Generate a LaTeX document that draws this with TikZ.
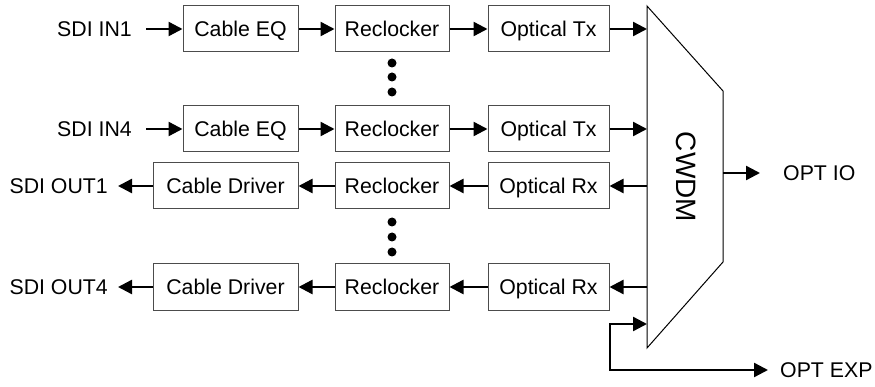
\documentclass[tikz,border=0pt]{standalone}
\usepackage{fontspec}
\setmainfont{Liberation Sans}
\usetikzlibrary{arrows.meta}
\begin{document}
\begin{tikzpicture}[x=1pt,y=-1pt,
  font=\fontsize{21.3}{25}\selectfont,
  blk/.style={draw=black!70, line width=1pt, rectangle, inner sep=0pt,
    minimum height=46pt, text height=15.2pt, text depth=0pt},
  eqbox/.style={blk, minimum width=115pt},
  rcbox/.style={blk, minimum width=114pt},
  opbox/.style={blk, minimum width=121pt},
  drbox/.style={blk, minimum width=145pt},
  lbl/.style={inner sep=0pt, text height=15.2pt, text depth=0pt},
  sig/.style={line width=2.4pt, -{Triangle[length=14pt,width=14pt]}},
  sig2/.style={line width=2.4pt, {Triangle[length=14pt,width=14pt]}-{Triangle[length=14pt,width=14pt]}},
  dot/.style={fill=black, circle, inner sep=0pt, minimum size=9pt}
]
\useasboundingbox (0,0) rectangle (875,387);

% transmit chains
\node[eqbox] (eq1) at (240.5,29) {Cable EQ};
\node[rcbox] (rc1) at (392,29) {Reclocker};
\node[opbox] (tx1) at (548.5,29) {Optical Tx};
\node[eqbox] (eq4) at (240.5,129) {Cable EQ};
\node[rcbox] (rc4) at (392,129) {Reclocker};
\node[opbox] (tx4) at (548.5,129) {Optical Tx};

% receive chains
\node[drbox] (dr1) at (225.5,186) {Cable Driver};
\node[rcbox] (rr1) at (392,186) {Reclocker};
\node[opbox] (rx1) at (548.5,186) {Optical Rx};
\node[drbox] (dr4) at (225.5,287) {Cable Driver};
\node[rcbox] (rr4) at (392,287) {Reclocker};
\node[opbox] (rx4) at (548.5,287) {Optical Rx};

% ellipsis dots
\node[dot] (d1) at (392,63) {};
\node[dot] (d2) at (392,77) {};
\node[dot] (d3) at (392,92) {};
\node[dot] (d4) at (392,222) {};
\node[dot] (d5) at (392,237) {};
\node[dot] (d6) at (392,252) {};

% port labels
\node[lbl, anchor=east] (in1) at (132,29) {SDI IN1};
\node[lbl, anchor=east] (in4) at (132,129) {SDI IN4};
\node[lbl, anchor=east] (out1) at (108,186) {SDI OUT1};
\node[lbl, anchor=east] (out4) at (108,287) {SDI OUT4};
\node[lbl, anchor=west] (optio) at (783,173) {OPT IO};
\node[lbl, anchor=west] (optexp) at (780,370) {OPT EXP};

% CWDM multiplexer
\draw[line width=1pt] (647,6) -- (723,91) -- (723,262) -- (647,348) -- cycle;
\node[rotate=-90, font=\fontsize{28}{32}\selectfont, text height=20pt, text depth=0pt] (cwdm) at (686,177) {CWDM};
\coordinate (cwL) at (647,0);
\coordinate (cwR) at (723,173);
\coordinate (cwX) at (647,324);
\coordinate (bend) at (610,324);

% transmit connectors
\draw[sig, shorten <=14pt] (in1.east) -- (eq1.west);
\draw[sig] (eq1.east) -- (rc1.west);
\draw[sig] (rc1.east) -- (tx1.west);
\draw[sig] (tx1.east) -- (tx1.east -| cwL);
\draw[sig, shorten <=14pt] (in4.east) -- (eq4.west);
\draw[sig] (eq4.east) -- (rc4.west);
\draw[sig] (rc4.east) -- (tx4.west);
\draw[sig] (tx4.east) -- (tx4.east -| cwL);

% receive connectors
\draw[sig] (rx1.east -| cwL) -- (rx1.east);
\draw[sig] (rx1.west) -- (rr1.east);
\draw[sig] (rr1.west) -- (dr1.east);
\draw[sig, shorten >=10pt] (dr1.west) -- (out1.east);
\draw[sig] (rx4.east -| cwL) -- (rx4.east);
\draw[sig] (rx4.west) -- (rr4.east);
\draw[sig] (rr4.west) -- (dr4.east);
\draw[sig, shorten >=10pt] (dr4.west) -- (out4.east);

% optical ports
\draw[sig, shorten >=23pt] (cwR) -- (optio.west);
\draw[sig2, shorten >=12pt] (cwX) -- (bend) |- (optexp.west);
\end{tikzpicture}
\end{document}
